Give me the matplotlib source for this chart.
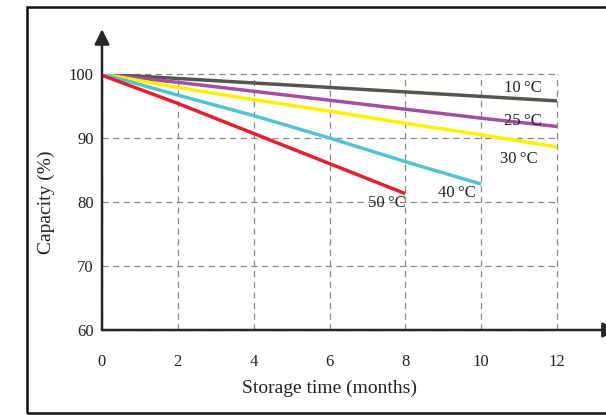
import matplotlib.pyplot as plt
from matplotlib.patches import Rectangle

# storage time (months) and remaining capacity (%) per temperature
months = [0, 2, 4, 6, 8, 10, 12]
cap_10 = [100, 99.3, 98.6, 97.9, 97.2, 96.5, 95.8]
cap_25 = [100, 98.7, 97.3, 95.9, 94.5, 93.1, 91.8]
cap_30 = [100, 97.9, 96.0, 94.2, 92.3, 90.5, 88.6]
cap_40 = [100, 96.7, 93.5, 90.0, 86.3, 82.8]
cap_50 = [99.8, 95.4, 90.7, 86.0, 81.3]

series = [
    ('10°C', cap_10, '#555550', 11.1, 97.8),
    ('25°C', cap_25, '#a24fa0', 11.1, 92.7),
    ('30°C', cap_30, '#fff000', 11.0, 86.7),
    ('40°C', cap_40, '#52c3d0', 9.35, 81.4),
    ('50°C', cap_50, '#e4202c', 7.5, 79.9),
]

xticks = [0, 2, 4, 6, 8, 10, 12]
yticks = [60, 70, 80, 90, 100]

plt.rcParams['font.family'] = ['Liberation Serif', 'DejaVu Serif']

fig = plt.figure(figsize=(6.06, 4.15), dpi=100)
fig.patches.append(Rectangle((27 / 606, 2 / 415), 1.2, 406 / 415,
                             transform=fig.transFigure, fill=False,
                             edgecolor='#111111', linewidth=1.8))

ax = fig.add_axes([102 / 606, 85 / 415, 455 / 606, 256 / 415])
ax.set_xlim(0, 12)
ax.set_ylim(60, 100)

for name, vals, col, lx, ly in series:
    ax.plot(months[:len(vals)], vals, color=col, linewidth=2.5,
            solid_capstyle='butt', zorder=3)
    ax.text(lx, ly, name.replace('°', '\u2009°'), fontsize=12, ha='center',
            va='center', color='#222222')

ax.set_xticks(xticks)
ax.set_yticks(yticks)
ax.set_xticklabels([str(t) for t in xticks], fontsize=12)
ax.set_yticklabels([str(t) for t in yticks], fontsize=12)
ax.tick_params(length=0, colors='#222222')
ax.tick_params(axis='x', pad=17)
ax.tick_params(axis='y', pad=6)

ax.grid(True, color='#8a8a8a', linestyle=(0, (5, 3.5)), linewidth=0.9)
for gl in ax.get_xgridlines() + ax.get_ygridlines():
    gl.set_clip_on(False)
for s in ax.spines.values():
    s.set_visible(False)

# axis lines with arrows
ax.annotate('', xy=(0, 107), xytext=(0, 60), annotation_clip=False,
            arrowprops=dict(arrowstyle='-|>,head_length=0.9,head_width=0.45',
                            color='#2a2525', lw=1.8, shrinkA=0, shrinkB=0))
ax.annotate('', xy=(13.6, 60), xytext=(0, 60), annotation_clip=False,
            arrowprops=dict(arrowstyle='-|>,head_length=0.9,head_width=0.45',
                            color='#2a2525', lw=1.8, shrinkA=0, shrinkB=0))

ax.set_xlabel('Storage time (months)', fontsize=14, color='#222222', labelpad=7)
ax.set_ylabel('Capacity (%)', fontsize=14, color='#222222', labelpad=10)

fig.savefig('out.png', dpi=100)
